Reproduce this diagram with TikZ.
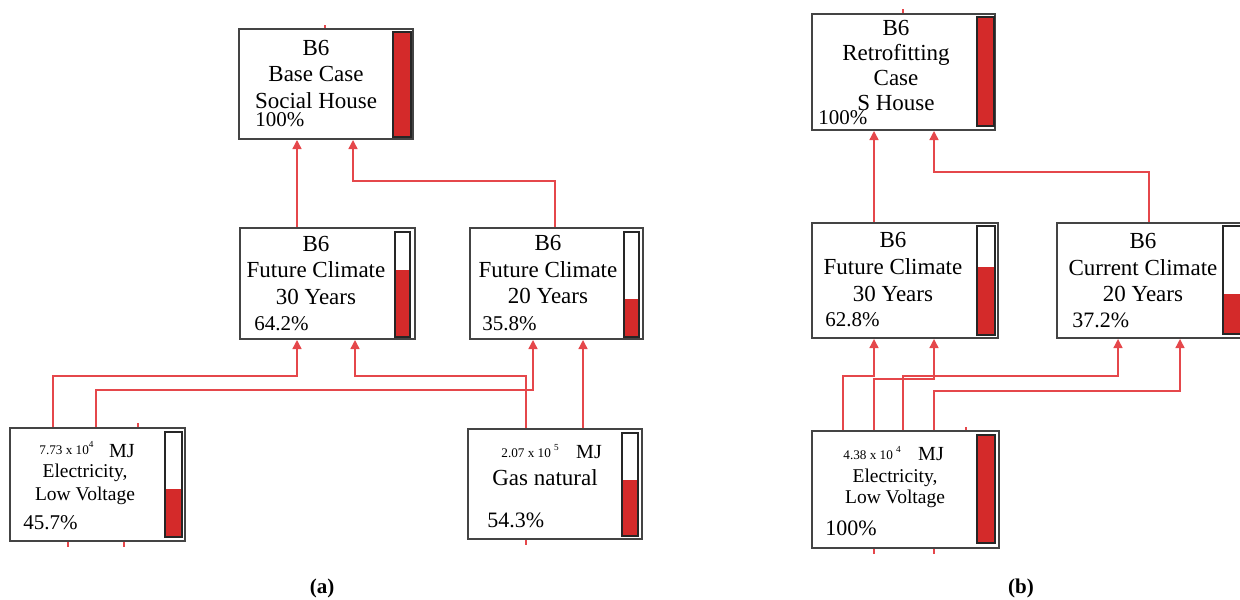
\documentclass[tikz,border=0pt]{standalone}
\usepackage{fontspec}
\setmainfont{Liberation Serif}
\usetikzlibrary{arrows.meta}
\definecolor{linkred}{HTML}{E5474B}
\definecolor{barred}{HTML}{D42A2A}
\definecolor{boxgray}{HTML}{444444}
\begin{document}
\begin{tikzpicture}[x=0.5pt,y=-0.5pt,
    box/.style={rectangle,draw=boxgray,line width=1pt,fill=white,inner sep=0pt},
    tube/.style={draw=black!85,line width=0.8pt},
    level/.style={fill=barred},
    flow/.style={draw=linkred,line width=0.7pt,-{Triangle[width=4.5pt,length=4.5pt]}},
    stub/.style={draw=linkred,line width=0.7pt},
    txt/.style={align=center,inner sep=0pt,font=\fontsize{11.5}{13.25}\selectfont},
    electxt/.style={align=center,inner sep=0pt,font=\fontsize{9.75}{11.5}\selectfont},
    pct/.style={anchor=west,inner sep=0pt,font=\fontsize{10.5}{12}\selectfont},
    mag/.style={anchor=base west,inner sep=0pt,font=\fontsize{6.6}{8}\selectfont},
    unit/.style={inner sep=0pt,font=\fontsize{10}{12}\selectfont},
    subcap/.style={inner sep=0pt,font=\bfseries\fontsize{10.5}{12}\selectfont}]
  \useasboundingbox (0,0) rectangle (1240,599);
  \clip (0,0) rectangle (1240,599);

  \node[box,minimum width=87pt,minimum height=55pt] (baseA) at (326,84) {};
  \node[box,minimum width=87.5pt,minimum height=55.5pt] (fcA30) at (327.5,283.5) {};
  \node[box,minimum width=86.5pt,minimum height=55.5pt] (fcA20) at (556.5,283.5) {};
  \node[box,minimum width=87.5pt,minimum height=56.5pt] (elecA) at (97.5,484.5) {};
  \node[box,minimum width=87pt,minimum height=55pt] (gasA) at (555,484) {};

  \node[box,minimum width=91.5pt,minimum height=58pt] (retroB) at (903.5,72) {};
  \node[box,minimum width=93pt,minimum height=57.5pt] (fcB30) at (905,280.5) {};
  \node[box,minimum width=93.5pt,minimum height=57.5pt] (ccB20) at (1150.5,280.5) {};
  \node[box,minimum width=93.5pt,minimum height=58.5pt] (elecB) at (905.5,489.5) {};

  \fill[level] (393,32) rectangle (411,137);
  \draw[tube] (393,32) rectangle (411,137);
  \fill[level] (395,269.6) rectangle (410,337);
  \draw[tube] (395,232) rectangle (410,337);
  \fill[level] (624,299.4) rectangle (639,337);
  \draw[tube] (624,232) rectangle (639,337);
  \fill[level] (165,489) rectangle (182,537);
  \draw[tube] (165,432) rectangle (182,537);
  \fill[level] (622,480) rectangle (638,536);
  \draw[tube] (622,433) rectangle (638,536);
  \fill[level] (977,17) rectangle (994,126);
  \draw[tube] (977,17) rectangle (994,126);
  \fill[level] (977,266.5) rectangle (995,335);
  \draw[tube] (977,226) rectangle (995,335);
  \fill[level] (1223,293.8) rectangle (1243,334);
  \draw[tube] (1223,226) rectangle (1243,334);
  \fill[level] (977,435) rectangle (995,543);
  \draw[tube] (977,435) rectangle (995,543);

  \node[txt] (baseA-txt) at (316,74) {B6\\Base Case\\Social House};
  \node[pct] (baseA-pct) at (255,120) {100\%};
  \node[txt] (fcA30-txt) at (316,270) {B6\\Future Climate\\30 Years};
  \node[pct] (fcA30-pct) at (254,324) {64.2\%};
  \node[txt] (fcA20-txt) at (548,269.5) {B6\\Future Climate\\20 Years};
  \node[pct] (fcA20-pct) at (482,324) {35.8\%};
  \node[mag] (elecA-mag) at (39,454) {7.73 x 10\textsuperscript{4}};
  \node[unit] (elecA-unit) at (122,451) {MJ};
  \node[electxt] (elecA-txt) at (85,484) {Electricity,\\Low Voltage};
  \node[pct] (elecA-pct) at (23,523) {45.7\%};
  \node[mag] (gasA-mag) at (501,457) {2.07 x 10 \textsuperscript{5}};
  \node[unit] (gasA-unit) at (589,452) {MJ};
  \node[txt] (gasA-txt) at (545,478) {Gas natural};
  \node[pct,font=\fontsize{11}{12}\selectfont] (gasA-pct) at (487,520) {54.3\%};

  \node[txt,font=\fontsize{11.5}{12.5}\selectfont] (retroB-txt) at (896,65) {B6\\Retrofitting\\Case\\S House};
  \node[pct] (retroB-pct) at (818,118) {100\%};
  \node[txt,font=\fontsize{11.5}{13.5}\selectfont] (fcB30-txt) at (893,267) {B6\\Future Climate\\30 Years};
  \node[pct] (fcB30-pct) at (825,320) {62.8\%};
  \node[txt] (ccB20-txt) at (1143,267.5) {B6\\Current Climate\\20 Years};
  \node[pct,font=\fontsize{11}{12}\selectfont] (ccB20-pct) at (1072,320) {37.2\%};
  \node[mag] (elecB-mag) at (843,459) {4.38 x 10 \textsuperscript{4}};
  \node[unit] (elecB-unit) at (931,454) {MJ};
  \node[electxt,font=\fontsize{9.75}{10.5}\selectfont] (elecB-txt) at (895,488) {Electricity,\\Low Voltage};
  \node[pct,font=\fontsize{11}{12}\selectfont] (elecB-pct) at (825,528) {100\%};

  \draw[flow] (297,0 |- fcA30.north) -- (297,0 |- baseA.south);
  \draw[flow] (555,0 |- fcA20.north) -- (555,181) -| (353,0 |- baseA.south);
  \draw[flow] (53,0 |- elecA.north) -- (53,376) -| (297,0 |- fcA30.south);
  \draw[flow] (96,0 |- elecA.north) -- (96,390) -| (533,0 |- fcA20.south);
  \draw[flow] (526,0 |- gasA.north) -- (526,376) -| (355,0 |- fcA30.south);
  \draw[flow] (583,0 |- gasA.north) -- (583,0 |- fcA20.south);

  \draw[flow] (874,0 |- fcB30.north) -- (874,0 |- retroB.south);
  \draw[flow] (1149,0 |- ccB20.north) -- (1149,172) -| (934,0 |- retroB.south);
  \draw[flow] (843,0 |- elecB.north) -- (843,376) -| (874,0 |- fcB30.south);
  \draw[flow] (874,0 |- elecB.north) -- (874,379) -| (934,0 |- fcB30.south);
  \draw[flow] (903,0 |- elecB.north) -- (903,376) -| (1118,0 |- ccB20.south);
  \draw[flow] (934,0 |- elecB.north) -- (934,391) -| (1180,0 |- ccB20.south);

  \draw[stub] (325,0 |- baseA.north) -- ++(0,-3);
  \draw[stub] (138,0 |- elecA.north) -- ++(0,-4);
  \draw[stub] (68,0 |- elecA.south) -- ++(0,5);
  \draw[stub] (124,0 |- elecA.south) -- ++(0,5);
  \draw[stub] (526,0 |- gasA.south) -- ++(0,5);
  \draw[stub] (903,0 |- retroB.north) -- ++(0,-4);
  \draw[stub] (966,0 |- elecB.north) -- ++(0,-3);
  \draw[stub] (874,0 |- elecB.south) -- ++(0,5);
  \draw[stub] (934,0 |- elecB.south) -- ++(0,5);

  \node[subcap] (capA) at (322,588) {(a)};
  \node[subcap] (capB) at (1021,588) {(b)};
\end{tikzpicture}
\end{document}
